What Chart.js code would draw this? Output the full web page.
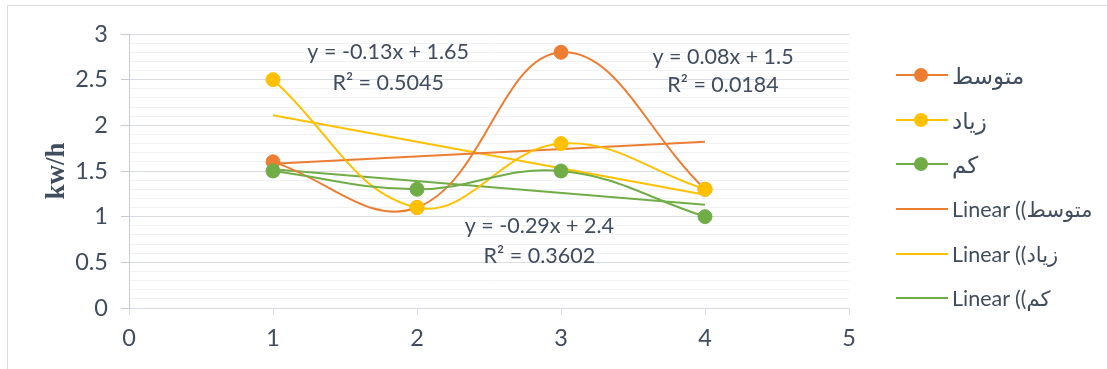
<!DOCTYPE html>
<html>
<head>
<meta charset="utf-8">
<script src="https://cdn.jsdelivr.net/npm/chart.js@4.4.1/dist/chart.umd.min.js"></script>
<style>
  html, body { margin: 0; padding: 0; width: 1107px; height: 369px; overflow: hidden; background: #fff; }
  #frame { position: absolute; left: 7px; top: 5px; width: 1200px; height: 420px; border: 1px solid #D9DDE3; box-sizing: border-box; }
  #wrap { position: absolute; left: 0; top: 0; width: 1107px; height: 369px; }
  #legend { position: absolute; left: 896px; top: 53px; font-family: Lato, "DejaVu Sans", sans-serif; font-size: 21.5px; color: #404D5E; }
  .item { height: 44.6px; display: flex; align-items: center; }
  .sample { position: relative; width: 52px; height: 14px; margin-right: 4px; flex: none; }
  .sample .ln { position: absolute; left: 0; right: 0; top: 6px; height: 2px; }
  .sample .dot { position: absolute; left: 18px; top: 0; width: 14px; height: 14px; border-radius: 50%; }
  .txt { white-space: nowrap; direction: ltr; }
  .ar { font-size: 23px; }
  .ar2 { font-size: 21px; }
</style>
</head>
<body>
<div id="frame"></div>
<div id="wrap"><canvas id="c" width="1107" height="369"></canvas></div>
<div id="legend"></div>
<script>
// ---- data ----
const xValues = [1, 2, 3, 4];
const seriesNames = ['متوسط', 'زیاد', 'کم'];
const mediumValues = [1.6, 1.1, 2.8, 1.3];   // متوسط
const highValues   = [2.5, 1.1, 1.8, 1.3];   // زیاد
const lowValues    = [1.5, 1.3, 1.5, 1.0];   // کم
const trendX       = [1, 4];
const mediumTrend  = [1.58, 1.82];
const highTrend    = [2.11, 1.24];
const lowTrend     = [1.52, 1.13];
const equationTexts = [
  ['y = 0.08x + 1.5', 'R² = 0.0184'],
  ['y = -0.29x + 2.4', 'R² = 0.3602'],
  ['y = -0.13x + 1.65', 'R² = 0.5045']
];
const xTickValues = [0, 1, 2, 3, 4, 5];
const yMajorTicks = [0, 0.5, 1, 1.5, 2, 2.5, 3];
const yAxisTitle = 'kw/h';

// ---- styling / placement (not data) ----
const colors = ['#ED7D31', '#FFC000', '#70AD47'];
const labelAnchors = [ // [x, y line1, y line2] in axis units
  [4.125, 2.75, 2.44],
  [2.85, 0.90, 0.57],
  [1.80, 2.80, 2.46]
];
const textColor = '#404D5E';
const FONT = 'Lato, "DejaVu Sans", sans-serif';

function pts(xs, ys) { return xs.map((x, i) => ({ x: x, y: ys[i] })); }
const seriesData = [mediumValues, highValues, lowValues];
const trendData = [mediumTrend, highTrend, lowTrend];

const datasets = [];
seriesData.forEach((vals, i) => {
  datasets.push({
    label: seriesNames[i],
    data: pts(xValues, vals),
    borderColor: colors[i],
    backgroundColor: colors[i],
    borderWidth: 2,
    pointRadius: 7,
    pointBorderWidth: 1,
    pointBorderColor: colors[i],
    pointBackgroundColor: colors[i],
    tension: 0.4,
    showLine: true,
    order: 3 - i
  });
});
trendData.forEach((vals, i) => {
  datasets.push({
    label: 'Linear (' + seriesNames[i] + ')',
    data: pts(trendX, vals),
    borderColor: colors[i],
    borderWidth: 2,
    pointRadius: 0,
    tension: 0,
    showLine: true,
    order: 10 + i
  });
});

function isMajor(v) { return yMajorTicks.some(m => Math.abs(m - v) < 1e-6); }

const eqPlugin = {
  id: 'eqLabels',
  afterDatasetsDraw(chart) {
    const ctx = chart.ctx, xs = chart.scales.x, ys = chart.scales.y;
    ctx.save();
    ctx.font = '21.5px ' + FONT;
    ctx.fillStyle = textColor;
    ctx.textAlign = 'center';
    ctx.textBaseline = 'middle';
    equationTexts.forEach((lines, i) => {
      const a = labelAnchors[i];
      const px = xs.getPixelForValue(a[0]);
      ctx.fillText(lines[0], px, ys.getPixelForValue(a[1]));
      ctx.fillText(lines[1], px, ys.getPixelForValue(a[2]));
    });
    ctx.restore();
  }
};

function build() {
  new Chart(document.getElementById('c'), {
    type: 'scatter',
    data: { datasets: datasets },
    plugins: [eqPlugin],
    options: {
      responsive: false,
      animation: false,
      layout: { padding: { left: 34, top: 34, right: 258, bottom: 0 } },
      plugins: { legend: { display: false }, tooltip: { enabled: false } },
      scales: {
        x: {
          type: 'linear', min: 0, max: 5,
          afterBuildTicks(s) { s.ticks = xTickValues.map(v => ({ value: v })); },
          afterFit(s) { s.height = 61; },
          grid: { drawOnChartArea: false, drawTicks: true, tickLength: 7, tickColor: '#D9DDE3', color: '#D9DDE3' },
          border: { color: '#D9DDE3', width: 1 },
          ticks: { color: textColor, font: { family: FONT, size: 23.5 }, padding: 9, autoSkip: false, maxRotation: 0 }
        },
        y: {
          type: 'linear', min: 0, max: 3,
          afterBuildTicks(s) {
            const t = [];
            for (let k = 0; k <= 30; k++) t.push({ value: k / 10 });
            s.ticks = t;
          },
          afterFit(s) { s.width = 95; },
          grid: {
            drawTicks: true, tickLength: 8,
            color: c => isMajor(c.tick.value) ? '#D9DDE3' : '#F2F2F2',
            tickColor: c => isMajor(c.tick.value) ? '#C5CAD3' : 'rgba(0,0,0,0)',
            lineWidth: 1
          },
          border: { color: '#C5CAD3', width: 1 },
          title: { display: true, text: yAxisTitle, color: textColor, font: { family: '"Liberation Serif", serif', size: 27, weight: 'bold' }, padding: { top: 7, bottom: 0 } },
          ticks: {
            color: textColor, font: { family: FONT, size: 23.5 }, padding: 13, autoSkip: false,
            callback: v => isMajor(v) ? String(Math.round(v * 10) / 10) : ''
          }
        }
      }
    }
  });

  const leg = document.getElementById('legend');
  seriesNames.forEach((n, i) => {
    leg.insertAdjacentHTML('beforeend',
      '<div class="item"><span class="sample"><span class="ln" style="background:' + colors[i] + '"></span><span class="dot" style="background:' + colors[i] + '"></span></span><span class="txt ar">' + n + '</span></div>');
  });
  seriesNames.forEach((n, i) => {
    leg.insertAdjacentHTML('beforeend',
      '<div class="item"><span class="sample"><span class="ln" style="background:' + colors[i] + '"></span></span><span class="txt">Linear (<span dir="rtl" class="ar2" style="unicode-bidi:isolate">' + n + ')</span></span></div>');
  });
}

if (document.fonts && document.fonts.load) {
  Promise.all([document.fonts.load('20px Lato'), document.fonts.load('bold 27px "Liberation Serif"')]).then(build, build);
} else { build(); }
</script>
</body>
</html>
